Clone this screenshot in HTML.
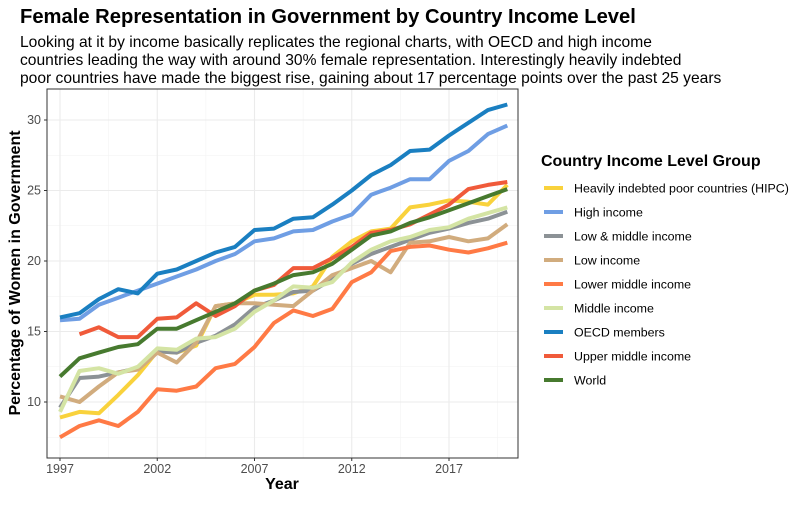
<!DOCTYPE html>
<html><head><meta charset="utf-8"><style>
body{margin:0;background:#fff;width:800px;height:500px;overflow:hidden;font-family:"Liberation Sans",Arial,sans-serif}
svg text{font-family:"Liberation Sans",Arial,sans-serif}
</style></head><body>
<svg id="chart" width="800" height="500" xmlns="http://www.w3.org/2000/svg">
<text x="20" y="23" font-size="20.2" font-weight="bold" fill="#000">Female Representation in Government by Country Income Level</text>
<g font-size="15.6" fill="#000">
<text x="20" y="47">Looking at it by income basically replicates the regional charts, with OECD and high income</text>
<text x="20" y="65">countries leading the way with around 30% female representation. Interestingly heavily indebted</text>
<text x="20" y="83">poor countries have made the biggest rise, gaining about 17 percentage points over the past 25 years</text>
</g>
<g id="grid"></g>
<g id="series"></g>
<rect x="47" y="89" width="471" height="369" fill="none" stroke="#333" stroke-width="1"/>
<g id="axes"></g>
<text x="282" y="489" font-size="16" font-weight="bold" text-anchor="middle">Year</text>
<text transform="translate(20,273) rotate(-90)" font-size="16" font-weight="bold" text-anchor="middle">Percentage of Women in Government</text>
<text x="541" y="166" font-size="16" font-weight="bold">Country Income Level Group</text>
<g id="legend"></g>
</svg>
<script>
const years=[1997,1998,1999,2000,2001,2002,2003,2004,2005,2006,2007,2008,2009,2010,2011,2012,2013,2014,2015,2016,2017,2018,2019,2020];
const xTicks=[1997,2002,2007,2012,2017];
const yTicks=[10,15,20,25,30];
const names=["Heavily indebted poor countries (HIPC)","High income","Low & middle income","Low income","Lower middle income","Middle income","OECD members","Upper middle income","World"];
const colors=["#F9D23C","#6F9EE4","#8C9296","#D1AC7E","#FF7A45","#D4E4A4","#1A7FC1","#F05A3A","#477A2F"];
const hipc=[8.9,9.3,9.2,10.5,11.9,13.6,13.5,14.0,16.8,17.0,17.6,17.6,17.7,18.2,20.3,21.4,22.1,22.3,23.8,24.0,24.3,24.2,24.0,25.4];
const highIncome=[15.8,15.9,16.9,17.4,17.9,18.4,18.9,19.4,20.0,20.5,21.4,21.6,22.1,22.2,22.8,23.3,24.7,25.2,25.8,25.8,27.1,27.8,29.0,29.6];
const lowMiddle=[9.6,11.7,11.8,12.1,12.4,13.6,13.5,14.2,14.7,15.5,16.7,17.2,17.8,17.9,18.7,19.8,20.5,21.0,21.5,22.0,22.3,22.7,23.0,23.5];
const lowIncome=[10.4,10.0,11.1,12.1,12.3,13.5,12.8,14.2,16.8,17.0,17.0,16.9,16.8,17.9,19.0,19.5,20.0,19.2,21.3,21.4,21.7,21.4,21.6,22.6];
const lowerMiddle=[7.5,8.3,8.7,8.3,9.3,10.9,10.8,11.1,12.4,12.7,13.9,15.6,16.5,16.1,16.6,18.5,19.2,20.7,21.0,21.1,20.8,20.6,20.9,21.3];
const middleIncome=[9.3,12.2,12.4,12.0,12.5,13.8,13.7,14.5,14.6,15.2,16.4,17.2,18.2,18.1,18.5,19.9,20.8,21.4,21.7,22.2,22.4,23.0,23.4,23.8];
const oecd=[16.0,16.3,17.3,18.0,17.7,19.1,19.4,20.0,20.6,21.0,22.2,22.3,23.0,23.1,24.0,25.0,26.1,26.8,27.8,27.9,28.9,29.8,30.7,31.1];
const upperMiddle=[null,14.8,15.3,14.6,14.6,15.9,16.0,17.0,16.1,16.8,17.9,18.3,19.5,19.5,20.2,21.0,22.0,22.2,22.6,23.3,24.0,25.1,25.4,25.6];
const world=[11.8,13.1,13.5,13.9,14.1,15.2,15.2,15.8,16.4,17.0,17.9,18.4,19.0,19.2,19.8,20.8,21.8,22.1,22.7,23.1,23.6,24.1,24.6,25.1];
const seriesData=[hipc,highIncome,lowMiddle,lowIncome,lowerMiddle,middleIncome,oecd,upperMiddle,world];
const seriesKeys=["hipc","high-income","low-middle-income","low-income","lower-middle-income","middle-income","oecd","upper-middle-income","world"];

const NS="http://www.w3.org/2000/svg";
const X=y=>60+(y-1997)*19.45;
const Y=v=>402-(v-10)*14.1;
const L=47,R=518,T=89,B=458;
function mk(tag,attrs,parent){const e=document.createElementNS(NS,tag);for(const k in attrs)e.setAttribute(k,attrs[k]);parent.appendChild(e);return e;}
const grid=document.getElementById('grid'),axes=document.getElementById('axes'),ser=document.getElementById('series'),leg=document.getElementById('legend');
mk('rect',{x:L,y:T,width:R-L,height:B-T,fill:'#fff'},grid);
for(let i=0;i<yTicks.length+1;i++){const v=yTicks[0]-2.5+i*5;const yy=Y(v);if(yy>T&&yy<B){const l=mk('line',{x1:L,x2:R,y1:yy,y2:yy,stroke:'#f2f2f2','stroke-width':0.6},grid);}}
for(let i=0;i<xTicks.length+1;i++){const v=xTicks[0]-2.5+i*5;const xx=X(v);if(xx>L&&xx<R){const l=mk('line',{x1:xx,x2:xx,y1:T,y2:B,stroke:'#f2f2f2','stroke-width':0.6},grid);}}
yTicks.forEach(v=>{const yy=Y(v);
const g=mk('line',{x1:L,x2:R,y1:yy,y2:yy,stroke:'#ebebeb','stroke-width':1.1},grid);
mk('line',{x1:L-3,x2:L,y1:yy,y2:yy,stroke:'#333'},axes);
const t=mk('text',{x:L-6,y:yy+4,'font-size':12.5,fill:'#4d4d4d','text-anchor':'end'},axes);t.textContent=v;
});
xTicks.forEach(v=>{const xx=X(v);
const g=mk('line',{x1:xx,x2:xx,y1:T,y2:B,stroke:'#ebebeb','stroke-width':1.1},grid);
mk('line',{x1:xx,x2:xx,y1:B,y2:B+3,stroke:'#333'},axes);
const t=mk('text',{x:xx,y:B+15,'font-size':12.5,fill:'#4d4d4d','text-anchor':'middle'},axes);t.textContent=v;
});
seriesData.forEach((d,i)=>{let p='';let pen=false;
d.forEach((v,j)=>{if(v==null){pen=false;return;}p+=(pen?'L':'M')+X(years[j]).toFixed(1)+','+Y(v).toFixed(1);pen=true;});
const path=mk('path',{d:p,fill:'none',stroke:colors[i],'stroke-width':4,'stroke-linejoin':'round'},ser);


const yy=188+i*24;
const g=mk('g',{},leg);


mk('line',{x1:544,x2:563,y1:yy,y2:yy,stroke:colors[i],'stroke-width':4},g);
const t=mk('text',{x:574,y:yy+4.5,'font-size':12.4,fill:'#000'},g);t.textContent=names[i];});
</script>
</body></html>
